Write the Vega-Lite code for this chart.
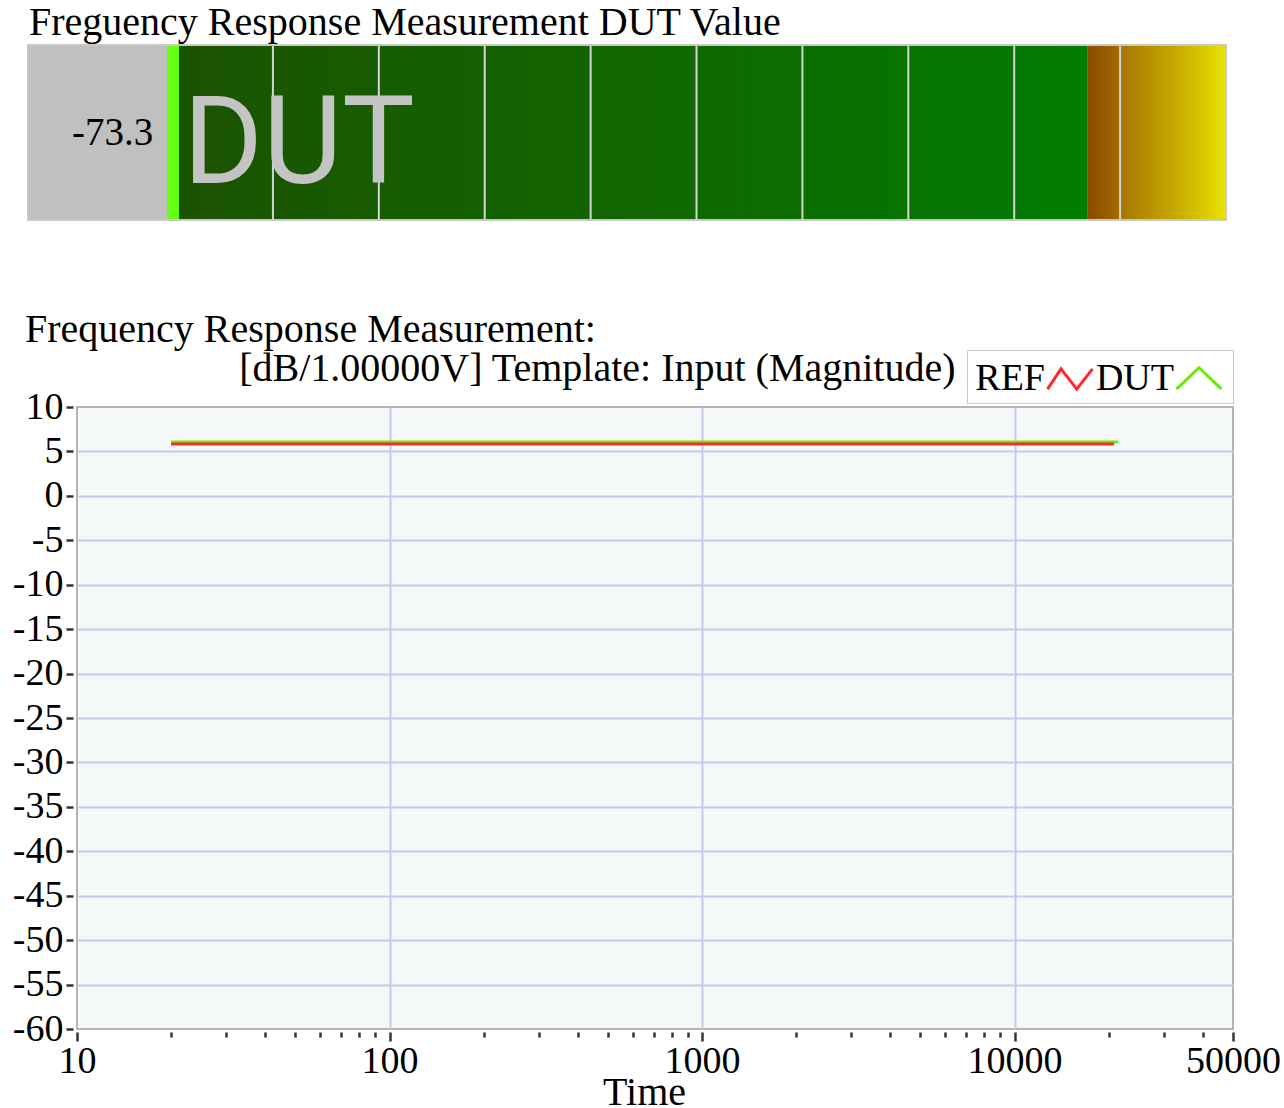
{
  "$schema": "https://vega.github.io/schema/vega-lite/v6.json",
  "background": "white",
  "padding": {"left": 11, "top": 3, "right": 0, "bottom": 0},
  "columns": 1,
  "spacing": 88,
  "config": {
    "font": "Liberation Serif",
    "locale": {"number": {"decimal": ".", "thousands": ",", "grouping": [3], "currency": ["$", ""], "minus": "-"}},
    "title": {"font": "Liberation Serif", "fontWeight": "normal", "color": "black"},
    "axis": {"labelFont": "Liberation Serif", "titleFont": "Liberation Serif", "labelColor": "black", "titleColor": "black", "titleFontWeight": "normal"},
    "legend": {"labelFont": "Liberation Serif", "titleFont": "Liberation Serif"}
  },
  "datasets": {
    "meter": [
      {"zone": "frame", "from": -13.13, "to": 100},
      {"zone": "level", "from": 0, "to": 1.13},
      {"zone": "normal", "from": 1.13, "to": 86.9},
      {"zone": "caution", "from": 86.9, "to": 89.9},
      {"zone": "over", "from": 89.9, "to": 100}
    ],
    "divisions": [
      {"mark": 10}, {"mark": 20}, {"mark": 30}, {"mark": 40}, {"mark": 50},
      {"mark": 60}, {"mark": 70}, {"mark": 80}, {"mark": 90}
    ],
    "readout": [{"channel": "DUT", "reading": -73.3}],
    "curves": [
      {"series": "DUT", "freq": 20, "level": 6.06},
      {"series": "DUT", "freq": 50, "level": 6.06},
      {"series": "DUT", "freq": 100, "level": 6.06},
      {"series": "DUT", "freq": 200, "level": 6.06},
      {"series": "DUT", "freq": 500, "level": 6.06},
      {"series": "DUT", "freq": 1000, "level": 6.06},
      {"series": "DUT", "freq": 2000, "level": 6.06},
      {"series": "DUT", "freq": 5000, "level": 6.06},
      {"series": "DUT", "freq": 10000, "level": 6.06},
      {"series": "DUT", "freq": 20000, "level": 6.06},
      {"series": "DUT", "freq": 21400, "level": 6.06},
      {"series": "REF", "freq": 20, "level": 5.84},
      {"series": "REF", "freq": 50, "level": 5.84},
      {"series": "REF", "freq": 100, "level": 5.84},
      {"series": "REF", "freq": 200, "level": 5.84},
      {"series": "REF", "freq": 500, "level": 5.84},
      {"series": "REF", "freq": 1000, "level": 5.84},
      {"series": "REF", "freq": 2000, "level": 5.84},
      {"series": "REF", "freq": 5000, "level": 5.84},
      {"series": "REF", "freq": 10000, "level": 5.84},
      {"series": "REF", "freq": 20000, "level": 5.84},
      {"series": "REF", "freq": 20800, "level": 5.84}
    ]
  },
  "concat": [
    {
      "width": 1149,
      "height": 175,
      "title": {"text": "Freguency Response Measurement DUT Value", "anchor": "start", "frame": "group", "fontSize": 40, "baseline": "bottom", "offset": -39, "dx": -48},
      "view": {"stroke": null, "fill": null},
      "layer": [
        {
          "data": {"name": "meter"},
          "transform": [{"filter": "datum.zone == 'frame'"}],
          "mark": {"type": "rect", "fill": "#c0c0c0"},
          "encoding": {
            "x": {"field": "from", "type": "quantitative", "scale": {"domain": [-13.13, 100], "range": [-49, 1149], "nice": false, "zero": false}, "axis": null},
            "x2": {"field": "to"},
            "y": {"datum": 0, "type": "quantitative", "scale": {"domain": [0, 1], "nice": false}, "axis": null},
            "y2": {"datum": 1}
          }
        },
        {
          "data": {"name": "meter"},
          "transform": [{"filter": "datum.zone == 'level'"}],
          "mark": {"type": "rect", "fill": "#66ff14"},
          "encoding": {
            "x": {"field": "from", "type": "quantitative"},
            "x2": {"field": "to"},
            "y": {"datum": 0, "type": "quantitative"},
            "y2": {"datum": 1}
          }
        },
        {
          "data": {"name": "meter"},
          "transform": [{"filter": "datum.zone == 'normal'"}],
          "mark": {"type": "rect", "fill": {"gradient": "linear", "x1": 0, "x2": 1, "y1": 0, "y2": 0, "stops": [{"offset": 0, "color": "#1b5300"}, {"offset": 0.5, "color": "#116600"}, {"offset": 1, "color": "#007c00"}]}},
          "encoding": {
            "x": {"field": "from", "type": "quantitative"},
            "x2": {"field": "to"},
            "y": {"datum": 0, "type": "quantitative"},
            "y2": {"datum": 1}
          }
        },
        {
          "data": {"name": "meter"},
          "transform": [{"filter": "datum.zone == 'caution'"}],
          "mark": {"type": "rect", "fill": {"gradient": "linear", "x1": 0, "x2": 1, "y1": 0, "y2": 0, "stops": [{"offset": 0, "color": "#8a4a00"}, {"offset": 1, "color": "#a26a00"}]}},
          "encoding": {
            "x": {"field": "from", "type": "quantitative"},
            "x2": {"field": "to"},
            "y": {"datum": 0, "type": "quantitative"},
            "y2": {"datum": 1}
          }
        },
        {
          "data": {"name": "meter"},
          "transform": [{"filter": "datum.zone == 'over'"}],
          "mark": {"type": "rect", "fill": {"gradient": "linear", "x1": 0, "x2": 1, "y1": 0, "y2": 0, "stops": [{"offset": 0, "color": "#a67400"}, {"offset": 0.5, "color": "#c4a600"}, {"offset": 1, "color": "#e8e200"}]}},
          "encoding": {
            "x": {"field": "from", "type": "quantitative"},
            "x2": {"field": "to"},
            "y": {"datum": 0, "type": "quantitative"},
            "y2": {"datum": 1}
          }
        },
        {
          "data": {"name": "divisions"},
          "mark": {"type": "rule", "color": "#d4d4d4", "strokeWidth": 2},
          "encoding": {
            "x": {"field": "mark", "type": "quantitative"}
          }
        },
        {
          "data": {"name": "meter"},
          "transform": [{"filter": "datum.zone == 'frame'"}],
          "mark": {"type": "rect", "fill": null, "stroke": "#c8c8c8", "strokeWidth": 2},
          "encoding": {
            "x": {"field": "from", "type": "quantitative"},
            "x2": {"field": "to"},
            "y": {"datum": 0, "type": "quantitative"},
            "y2": {"datum": 1}
          }
        },
        {
          "data": {"name": "readout"},
          "mark": {"type": "text", "font": "Roboto", "fontSize": 122, "color": "#c4c4c4", "align": "left", "baseline": "alphabetic"},
          "encoding": {
            "x": {"datum": 1.5, "type": "quantitative"},
            "y": {"datum": 0.211, "type": "quantitative"},
            "text": {"field": "channel"}
          }
        },
        {
          "data": {"name": "readout"},
          "mark": {"type": "text", "font": "Liberation Serif", "fontSize": 39, "color": "black", "align": "right", "baseline": "middle"},
          "encoding": {
            "x": {"datum": -1.3, "type": "quantitative"},
            "y": {"datum": 0.5, "type": "quantitative"},
            "text": {"field": "reading", "type": "quantitative", "format": ".1f"}
          }
        }
      ]
    },
    {
      "width": 1156,
      "height": 622,
      "title": {"text": "Frequency Response Measurement:", "anchor": "start", "frame": "group", "fontSize": 40, "baseline": "bottom", "offset": -42, "dx": -52},
      "view": {"stroke": "#b4b4b4", "strokeWidth": 2, "fill": "#f5f8f9"},
      "data": {"name": "curves"},
      "resolve": {"axis": {"x": "independent"}},
      "layer": [
        {
          "transform": [{"filter": "datum.series == 'DUT'"}],
          "mark": {"type": "line", "color": "#66ee00", "strokeWidth": 3},
          "encoding": {
            "x": {
              "field": "freq", "type": "quantitative",
              "scale": {"type": "log", "domain": [10, 50000], "nice": false},
              "axis": {
                "orient": "bottom",
                "values": [10, 20, 30, 40, 50, 60, 70, 80, 90, 100, 200, 300, 400, 500, 600, 700, 800, 900, 1000, 2000, 3000, 4000, 5000, 6000, 7000, 8000, 9000, 10000, 20000, 30000, 40000, 50000],
                "labelExpr": "indexof([10, 100, 1000, 10000, 50000], datum.value) >= 0 ? '' + datum.value : ''",
                "labelFontSize": 38,
                "labelPadding": 1,
                "labelFlush": false,
                "labelOverlap": false,
                "domain": false,
                "offset": 3,
                "ticks": true,
                "tickColor": "#333333",
                "tickWidth": 2.5,
                "tickSize": {"condition": {"test": "indexof([10, 100, 1000, 10000, 50000], datum.value) >= 0", "value": 9}, "value": 5},
                "grid": true,
                "gridColor": "#c8c8f0",
                "gridWidth": 2,
                "gridOpacity": {"condition": {"test": "indexof([100, 1000, 10000], datum.value) >= 0", "value": 1}, "value": 0},
                "title": "Time",
                "titleFontSize": 40,
                "titlePadding": -8,
                "titleX": 567
              }
            },
            "y": {
              "field": "level", "type": "quantitative",
              "scale": {"domain": [-60, 10], "nice": false, "zero": false},
              "axis": {
                "values": [-60, -57.5, -55, -52.5, -50, -47.5, -45, -42.5, -40, -37.5, -35, -32.5, -30, -27.5, -25, -22.5, -20, -17.5, -15, -12.5, -10, -7.5, -5, -2.5, 0, 2.5, 5, 7.5, 10],
                "labelExpr": "datum.value % 5 == 0 ? '' + datum.value : ''",
                "labelFontSize": 38,
                "labelPadding": 3,
                "labelOverlap": false,
                "labelFlush": false,
                "domain": false,
                "offset": 4,
                "tickColor": "#333333",
                "tickWidth": 2.5,
                "tickSize": {"condition": {"test": "datum.value % 5 == 0", "value": 7}, "value": 4},
                "grid": true,
                "gridColor": "#c8c8f0",
                "gridWidth": 2,
                "gridOpacity": {"condition": {"test": "datum.value % 5 == 0 && datum.value > -60 && datum.value < 10", "value": 1}, "value": 0},
                "title": null
              }
            }
          }
        },
        {
          "transform": [{"filter": "datum.series == 'REF'"}],
          "mark": {"type": "line", "color": "#ff2a2a", "strokeWidth": 3},
          "encoding": {
            "x": {"field": "freq", "type": "quantitative", "axis": null},
            "y": {"field": "level", "type": "quantitative"}
          }
        },
        {
          "mark": {"type": "point", "opacity": 0, "filled": false, "strokeWidth": 3},
          "encoding": {
            "x": {
              "field": "freq", "type": "quantitative",
              "axis": {"orient": "top", "labels": false, "ticks": false, "domain": false, "grid": false, "title": "[dB/1.00000V] Template: Input (Magnitude)", "titleFontSize": 40, "titleX": 878, "titleY": -27, "titleAlign": "right", "titleBaseline": "alphabetic", "titleAngle": 0}
            },
            "y": {"field": "level", "type": "quantitative"},
            "color": {
              "field": "series", "type": "nominal",
              "scale": {"domain": ["REF", "DUT"], "range": ["#ff2a2a", "#66ee00"]},
              "legend": {"orient": "none", "legendX": 890, "legendY": 305, "direction": "horizontal", "title": "\u00a0", "titleFontSize": 1, "titleOrient": "left", "titlePadding": 74, "labelFontSize": 38, "labelColor": "black", "labelAlign": "right", "labelOffset": -49, "labelLimit": 0, "symbolSize": 2025, "symbolStrokeWidth": 3, "symbolOpacity": 1, "columnPadding": -4, "strokeColor": "#c8c8c8", "fillColor": "white", "padding": 5}
            },
            "shape": {
              "field": "series", "type": "nominal",
              "scale": {"domain": ["REF", "DUT"], "range": ["M-1,0.45L-0.4,-0.45L0.3,0.45L1,-0.45", "M-1,0.45L0,-0.5L1,0.45"]},
              "legend": {"orient": "none", "legendX": 890, "legendY": 305, "direction": "horizontal", "title": "\u00a0", "titleFontSize": 1, "titleOrient": "left", "titlePadding": 74, "labelFontSize": 38, "labelColor": "black", "labelAlign": "right", "labelOffset": -49, "labelLimit": 0, "symbolSize": 2025, "symbolStrokeWidth": 3, "symbolOpacity": 1, "columnPadding": -4, "strokeColor": "#c8c8c8", "fillColor": "white", "padding": 5}
            }
          }
        }
      ]
    }
  ]
}
